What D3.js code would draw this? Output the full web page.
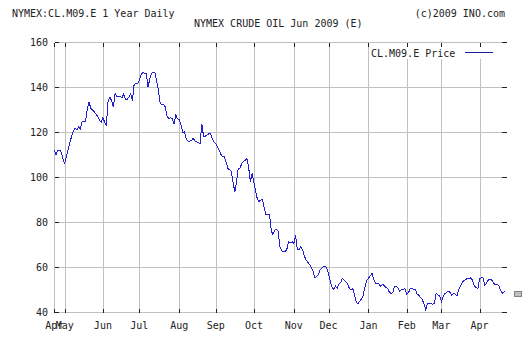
<!DOCTYPE html>
<html>
<head>
<meta charset="utf-8">
<script src="https://cdn.jsdelivr.net/npm/d3@7"></script>
<style>
  html, body { margin: 0; padding: 0; background: #fff; }
  svg { display: block; }
  text { font-family: "DejaVu Sans Mono", "Liberation Mono", monospace; font-size: 10px; fill: #222; }
</style>
</head>
<body>
<svg id="chart" width="528" height="357"></svg>
<script>
// Daily settle prices (weekday index from late Apr 2008 to late Apr 2009)
const prices = [
112,109.8,112,112,111,108,106,109,112.5,115.5,
118,120.5,121.6,121,122.2,121.2,124.5,124.6,124.8,130,
133.5,130.5,129.8,129,128,126.8,125.3,124.2,126.3,124.5,
122.7,134,135.5,134,131,137.2,135.7,135.8,135.7,135.2,
137,134.5,134.5,135.5,137,134,141.2,141.4,141.5,143,
145.5,146.4,146.2,146,140,143.5,146,146.5,146.5,142.4,
138.5,132.8,132.2,132.3,131,126.8,126,126.3,126,123.5,
127.5,125.8,125.5,123,119.8,120,117,116,116,116.1,
117.2,116.1,115.7,115.2,115,123.5,118,118.2,118.7,119.2,
119.5,117.2,115.5,114.8,113.5,112,110,109,109,106.5,
103.8,103.2,102.4,97.5,93.5,98,103.9,103.9,106,107,
107.3,108.3,104,97.8,101.9,97.5,93.5,90.2,89.1,89.8,
89.8,86,83.1,83.2,83.5,76,74.5,76.3,76.7,75.8,
69,67.1,67,66.8,68,71.3,70.8,71.2,70.5,74,
68,67.6,69,67.8,65,63.2,62.2,61.2,60,58.3,
55.5,55.6,56.4,58.5,59.4,60.1,60.4,59.4,57,53.5,
51,50,51.5,50.5,52.5,53,55,54.2,53.5,52.4,
50.5,49.8,50.3,47.6,44.5,43.5,44.9,45.8,47.5,51.3,
54,55,56,57.2,54.5,52.8,52.7,52.7,51.3,52.3,
51.8,51,50.5,48.8,48.3,48.5,51.3,51.3,50.8,49.3,
50,50.1,50.5,47.8,48.5,50.2,50.5,50.1,49.9,48,
47.5,46.5,45.5,43.5,41,43.9,43.9,43.8,43.5,44,
48.2,47.6,47.4,44.6,46.8,48.2,48.6,49.3,48.6,47.4,
48.2,48,47.2,50,51.3,53.3,54,54.3,55,54.8,
55.2,54,51.3,51,50.2,54.7,55.1,55.2,52,52.8,
54.2,54.5,54.2,53,52.1,52.3,51.8,49.8,48.3,48.8,
49.5
];
const monthLabels = ["Apr","May","Jun","Jul","Aug","Sep","Oct","Nov","Dec","Jan","Feb","Mar","Apr"];
const monthIndex  = [0, 6, 28, 49, 72, 93, 115, 138, 158, 181, 203, 223, 245];
const yTickValues = [40, 60, 80, 100, 120, 140, 160];
const titleLeft   = "NYMEX:CL.M09.E 1 Year Daily";
const titleRight  = "(c)2009 INO.com";
const titleCenter = "NYMEX CRUDE OIL Jun 2009 (E)";
const legendLabel = "CL.M09.E Price";

(function () {
const svg = d3.select("#chart");
const W = 528, H = 357;
const pLeft = 54.3, pRight = 505.6, gridRight = 500.5;
const pTop = 42, pBottom = 312;

const x = d3.scaleLinear().domain([0, prices.length - 1]).range([pLeft, pRight]);
const y = d3.scaleLinear().domain([40, 160]).range([pBottom, pTop]);
const px = v => Math.round(v) + 0.5;

svg.append("rect").attr("width", W).attr("height", H).attr("fill", "#fff");

const grid = svg.append("g").attr("shape-rendering", "crispEdges");
grid.selectAll("line.h").data(yTickValues).join("line")
  .attr("x1", px(pLeft)).attr("x2", px(gridRight))
  .attr("y1", d => px(y(d))).attr("y2", d => px(y(d)))
  .attr("stroke", "#c0c0c0");
grid.selectAll("line.v").data(monthIndex).join("line")
  .attr("x1", d => px(x(d))).attr("x2", d => px(x(d)))
  .attr("y1", px(pTop)).attr("y2", px(pBottom))
  .attr("stroke", "#c0c0c0");
grid.append("line")
  .attr("x1", px(pLeft)).attr("x2", px(pRight)).attr("y1", px(pBottom)).attr("y2", px(pBottom))
  .attr("stroke", "#c0c0c0");

// legend background
svg.append("rect").attr("x", 370).attr("y", 46).attr("width", gridRight - 370).attr("height", 13)
  .attr("fill", "#fff");

// ticks (inside)
const ticks = svg.append("g").attr("shape-rendering", "crispEdges").attr("stroke", "#222");
ticks.selectAll("line.l").data(yTickValues).join("line")
  .attr("x1", px(pLeft)).attr("x2", px(pLeft) + 4)
  .attr("y1", d => px(y(d))).attr("y2", d => px(y(d)));
ticks.selectAll("line.r").data(yTickValues).join("line")
  .attr("x1", px(gridRight)).attr("x2", px(pRight) + 0.5)
  .attr("y1", d => px(y(d))).attr("y2", d => px(y(d)));
ticks.selectAll("line.t").data(monthIndex.slice(1)).join("line")
  .attr("x1", d => px(x(d))).attr("x2", d => px(x(d)))
  .attr("y1", px(pTop)).attr("y2", px(pTop) + 4);
ticks.selectAll("line.b").data(monthIndex.slice(1)).join("line")
  .attr("x1", d => px(x(d))).attr("x2", d => px(x(d)))
  .attr("y1", px(pBottom) - 4).attr("y2", px(pBottom));
ticks.append("line").attr("x1", px(pLeft)).attr("x2", px(pLeft)).attr("y1", px(pTop)).attr("y2", px(pTop) + 4);
ticks.append("line").attr("x1", px(pLeft)).attr("x2", px(pLeft)).attr("y1", px(pBottom) - 4).attr("y2", px(pBottom));

// y labels
svg.append("g").selectAll("text").data(yTickValues).join("text")
  .attr("x", 48).attr("y", d => y(d) + 3.5)
  .attr("text-anchor", "end").text(d => d);

// x labels
svg.append("g").selectAll("text").data(monthIndex).join("text")
  .attr("x", d => x(d)).attr("y", 329)
  .attr("text-anchor", "middle").text((d, i) => monthLabels[i]);

// price line
const line = d3.line().x((d, i) => x(i)).y(d => y(d));
svg.append("path").datum(prices)
  .attr("d", line).attr("fill", "none")
  .attr("stroke", "#2020d0").attr("stroke-width", 1)
  .attr("shape-rendering", "crispEdges");

// last price marker
svg.append("rect")
  .attr("x", 514.5).attr("y", Math.round(y(prices[prices.length - 1])) + 0.5)
  .attr("width", 7).attr("height", 5)
  .attr("fill", "#c0c0c0").attr("stroke", "#808080").attr("shape-rendering", "crispEdges");

// titles
svg.append("text").attr("x", 12).attr("y", 17).text(titleLeft);
svg.append("text").attr("x", 505).attr("y", 17).attr("text-anchor", "end").text(titleRight);
svg.append("text").attr("x", 194).attr("y", 26.5).text(titleCenter);

// legend
svg.append("text").attr("x", 371).attr("y", 56.5).text(legendLabel);
svg.append("line").attr("x1", 465).attr("x2", 493).attr("y1", 52.5).attr("y2", 52.5)
  .attr("stroke", "#1c1ca8").attr("shape-rendering", "crispEdges");
})();
</script>
</body>
</html>
